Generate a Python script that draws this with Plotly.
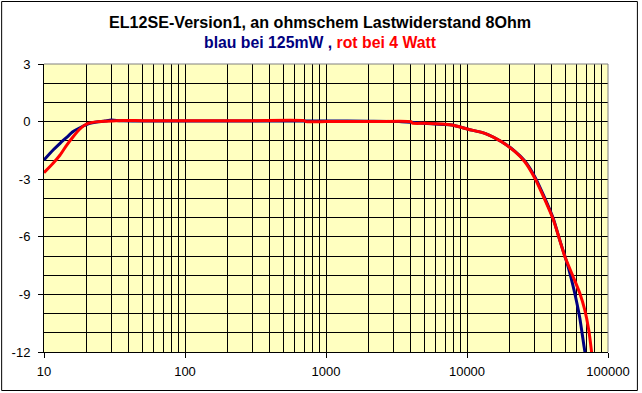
import plotly.graph_objects as go

# ---- data ----
blue_f = [10, 11.6, 13, 14.5, 16.1, 19, 21.1, 23.6, 27, 30, 35, 50, 100, 300, 700,
          1000, 2000, 3300, 5000, 7800, 10200, 13400, 17600, 21900, 25700, 30300,
          35700, 40900, 45600, 49400, 52100, 55000, 58100, 63000, 67600, 70000]
blue_db = [-2.0, -1.48, -1.13, -0.82, -0.52, -0.23, -0.09, -0.02, 0.03, 0.08, 0.04, 0.03,
           0.03, 0.03, 0.03, 0.03, 0.02, 0.0, -0.09, -0.18, -0.4, -0.61, -1.05, -1.55,
           -2.05, -2.88, -4.0, -5.05, -6.2, -7.0, -7.55, -8.2, -8.94, -10.2, -11.7, -12.4]

red_f = [10, 11.6, 13, 14.5, 16.1, 17.9, 20, 22.1, 27.7, 32.5, 50, 100, 300, 700, 720,
         1000, 2000, 4000, 4100, 5070, 7800, 10200, 13400, 17600, 21900, 25700, 30300,
         35700, 40900, 45600, 49400, 56600, 63100, 68400, 73000, 76200, 77500]
red_db = [-2.66, -2.17, -1.74, -1.22, -0.79, -0.4, -0.125, -0.04, 0.02, 0.05, 0.05, 0.05,
          0.05, 0.05, 0.0, 0.0, 0.0, 0.0, -0.08, -0.09, -0.18, -0.4, -0.61, -1.05, -1.57,
          -2.09, -2.95, -4.08, -5.1, -6.2, -7.03, -8.08, -8.94, -9.8, -10.85, -11.9, -12.4]

x_tickvals = [10, 100, 1000, 10000, 100000]
x_ticktext = ["10", "100", "1000", "10000", "100000"]
y_tickvals = [3, 0, -3, -6, -9, -12]
y_ticktext = ["3", "0", "-3", "-6", "-9", "-12"]

title1 = "<b>EL12SE-Version1, an ohmschem Lastwiderstand 8Ohm</b>"
title2 = ("<b><span style='color:#000080'>blau bei 125mW ,</span> "
          "<span style='color:#FF0000'>rot bei 4 Watt</span></b>")

FONT = "Liberation Sans, Arial, sans-serif"
W, H = 642, 393
ML, MR, MT, MB = 44, 32, 64, 41
W_PLOT = W - ML - MR
H_PLOT = H - MT - MB


def px_x(p):
    return (p - ML) / W_PLOT


def px_y(p):
    return (H - MB - p) / H_PLOT


fig = go.Figure()
fig.add_trace(go.Scatter(x=blue_f, y=blue_db, mode="lines",
                         line=dict(color="#000080", width=3, shape="spline", smoothing=0.6),
                         showlegend=False))
fig.add_trace(go.Scatter(x=red_f, y=red_db, mode="lines",
                         line=dict(color="#FF0000", width=3, shape="spline", smoothing=0.6),
                         showlegend=False))

fig.update_layout(
    width=W, height=H,
    margin=dict(l=ML, r=MR, t=MT, b=MB),
    paper_bgcolor="white",
    plot_bgcolor="#FFFFC0",
    font=dict(family=FONT, size=13, color="black"),
    annotations=[
        dict(text=title1, x=px_x(321), y=px_y(21.5), xref="paper", yref="paper",
             showarrow=False, yanchor="middle", xanchor="center",
             font=dict(size=16.1, family=FONT, color="black")),
        dict(text=title2, x=px_x(321), y=px_y(42.5), xref="paper", yref="paper",
             showarrow=False, yanchor="middle", xanchor="center",
             font=dict(size=15.8, family=FONT)),
    ],
)

fig.update_xaxes(type="log", range=[1, 5],
                 tickvals=x_tickvals, ticktext=x_ticktext,
                 showline=True, linecolor="black", linewidth=1,
                 ticks="outside", ticklen=5, tickcolor="black",
                 ticklabelstandoff=2,
                 showgrid=True, gridcolor="black", gridwidth=1,
                 minor=dict(dtick="D1", showgrid=True, gridcolor="black", gridwidth=1, ticks=""),
                 zeroline=False, tickfont=dict(size=13, family=FONT))
fig.update_yaxes(range=[-12, 3],
                 tickvals=y_tickvals, ticktext=y_ticktext,
                 showline=True, linecolor="black", linewidth=1,
                 ticks="outside", ticklen=5, tickcolor="black",
                 ticklabelstandoff=5,
                 showgrid=True, gridcolor="black", gridwidth=1,
                 minor=dict(dtick=1, showgrid=True, gridcolor="black", gridwidth=1, ticks=""),
                 zeroline=False, tickfont=dict(size=13, family=FONT))

# gray top/right plot border
fig.add_shape(type="line", xref="paper", yref="paper", x0=0, x1=1, y0=1, y1=1,
              line=dict(color="#808080", width=1), layer="above")
fig.add_shape(type="line", xref="paper", yref="paper", x0=1, x1=1, y0=0, y1=1,
              line=dict(color="#808080", width=1), layer="above")
# outer black frame of the whole chart
fig.add_shape(type="rect", xref="paper", yref="paper",
              x0=px_x(1.5), x1=px_x(639.5), y0=px_y(390.5), y1=px_y(1.5),
              line=dict(color="black", width=1), layer="above")

fig.write_html("out.html", config={"displayModeBar": False},
               post_script="document.body.style.margin='0px';")
